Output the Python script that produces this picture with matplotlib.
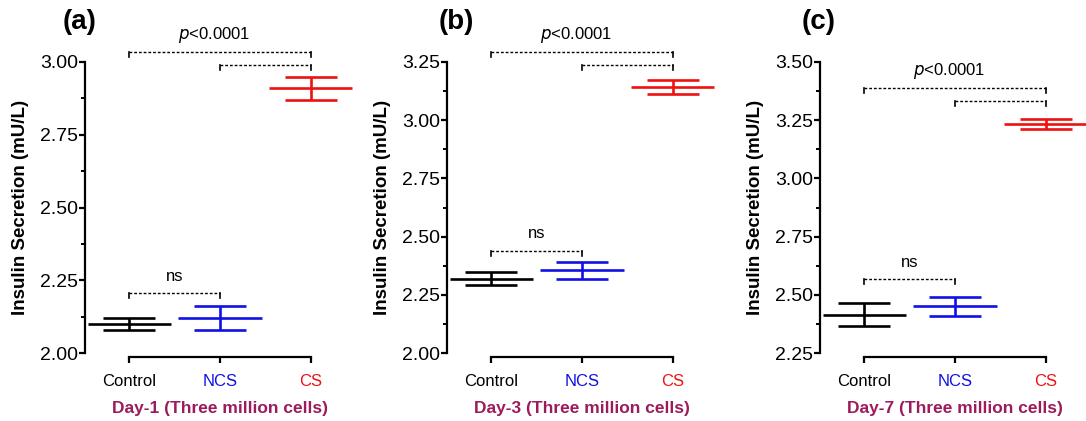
import matplotlib
matplotlib.use("Agg")
import matplotlib.pyplot as plt
from matplotlib.ticker import MultipleLocator, FormatStrFormatter

plt.rcParams['font.family'] = ['Liberation Sans', 'DejaVu Sans']

groups = ['Control', 'NCS', 'CS']
group_colors = ['#000000', '#1010e6', '#ee1111']
panel_tags = ['(a)', '(b)', '(c)']
day_labels = ['Day-1 (Three million cells)', 'Day-3 (Three million cells)', 'Day-7 (Three million cells)']

means_d1 = [2.10, 2.12, 2.91]
errs_d1 = [0.02, 0.04, 0.04]
means_d3 = [2.32, 2.355, 3.142]
errs_d3 = [0.027, 0.035, 0.031]
means_d7 = [2.415, 2.45, 3.235]
errs_d7 = [0.05, 0.042, 0.021]

ylims = [(2.0, 3.0), (2.0, 3.25), (2.25, 3.5)]
p_top_y = [3.034, 3.292, 3.388]
p_second_y = [2.99, 3.237, 3.334]
ns_y = [2.207, 2.44, 2.567]
ns_text = 'ns'

all_means = [means_d1, means_d3, means_d7]
all_errs = [errs_d1, errs_d3, errs_d7]

W, H = 1086, 421
fig = plt.figure(figsize=(W / 100, H / 100), dpi=100)

spine_px = [85, 447, 820]
tag_px = [80, 456, 819]
ax_w_px = 270
ax_bottom_px = 353
ax_top_px = 62

xlabel_color = '#9c1b5c'

for i in range(3):
    left = spine_px[i] / W
    bottom = 1 - ax_bottom_px / H
    height = (ax_bottom_px - ax_top_px) / H
    ax = fig.add_axes([left, bottom, ax_w_px / W, height])
    ax.set_xlim(-0.49, 2.49)
    ax.set_ylim(*ylims[i])
    ymin, ymax = ylims[i]
    rng = ymax - ymin
    x = list(range(len(groups)))
    m = all_means[i]
    e = all_errs[i]
    for j in x:
        c = group_colors[j]
        ax.hlines(m[j], j - 0.46, j + 0.46, colors=c, lw=1.9, clip_on=False, zorder=3)
        ax.errorbar(j, m[j], yerr=e[j], fmt='none', ecolor=c, elinewidth=1.9,
                    capsize=19, capthick=1.9, clip_on=False, zorder=3)

    drop = 0.018 * rng

    def bracket(x0, x1, y):
        ax.plot([x0, x1], [y, y], color='black', lw=1.0, ls=(0, (2, 1.4)), clip_on=False)
        ax.plot([x0, x0], [y, y - drop], color='black', lw=1.2, clip_on=False)
        ax.plot([x1, x1], [y, y - drop], color='black', lw=1.2, clip_on=False)

    bracket(0, 2, p_top_y[i])
    bracket(1, 2, p_second_y[i])
    bracket(0, 1, ns_y[i])
    ax.annotate(r'$\it{p}$<0.0001', xy=(0.93, p_top_y[i]), xytext=(0, 12.5),
                textcoords='offset points', ha='center', va='center', fontsize=12,
                annotation_clip=False)
    ax.annotate(ns_text, xy=(0.5, ns_y[i]), xytext=(0, 12),
                textcoords='offset points', ha='center', va='center', fontsize=12,
                annotation_clip=False)

    for s in ['top', 'right']:
        ax.spines[s].set_visible(False)
    ax.spines['left'].set_linewidth(1.6)
    ax.spines['bottom'].set_linewidth(1.6)
    ax.spines['bottom'].set_bounds(0, 2)
    ax.spines['bottom'].set_position(('outward', 3))
    ax.spines['left'].set_bounds(ymin, ymax)

    ax.yaxis.set_major_locator(MultipleLocator(0.25))
    ax.yaxis.set_minor_locator(MultipleLocator(0.125))
    ax.yaxis.set_major_formatter(FormatStrFormatter('%.2f'))
    ax.tick_params(axis='y', which='major', direction='out', length=4, width=1.6,
                   labelsize=14, pad=1)
    ax.tick_params(axis='y', which='minor', direction='out', length=3, width=1.4)
    ax.set_xticks(x)
    ax.set_xticklabels(groups)
    ax.tick_params(axis='x', which='major', direction='out', length=4, width=1.6,
                   labelsize=12, pad=8)
    for lbl, c in zip(ax.get_xticklabels(), group_colors):
        lbl.set_color(c)

    ax.set_ylabel('Insulin Secretion (mU/L)', fontsize=13.5, fontweight='bold', va='center')
    ax.yaxis.set_label_coords(-0.24, 0.5)
    ax.set_xlabel(day_labels[i], fontsize=12.5, fontweight='bold', color=xlabel_color,
                  va='center')
    ax.xaxis.set_label_coords(0.5, -0.19)
    ax.patch.set_alpha(0)

    fig.text(tag_px[i] / W, 1 - 22 / H, panel_tags[i], fontsize=20, fontweight='bold',
             ha='center', va='center')

fig.savefig('out.png', dpi=100)
